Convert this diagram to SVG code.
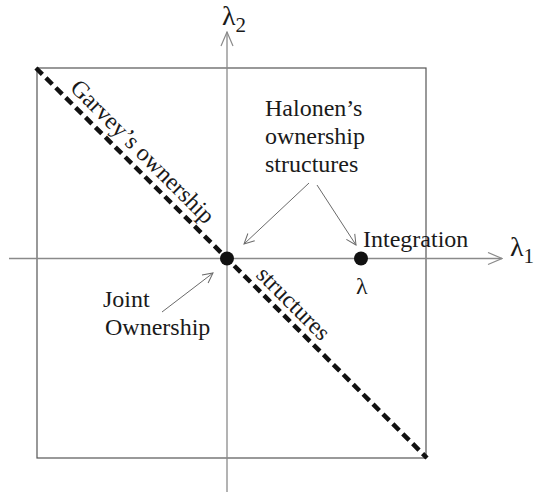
<svg xmlns="http://www.w3.org/2000/svg" width="534" height="493" viewBox="0 0 534 493" font-family="Liberation Serif, DejaVu Serif, serif">
<style>
.t{fill:#1a1a1a;font-size:24px}
.lam{font-size:28px}
.sub{font-size:21px}
.axis{stroke:#8a8a8a;stroke-width:1.3;fill:none}
.box{stroke:#555;stroke-width:1.2;fill:none}
.arr{stroke:#6a6a6a;stroke-width:1;fill:none}
.dash{stroke:#111;stroke-width:4.5;stroke-dasharray:9 5;fill:none}
.dot{fill:#111}
</style>
<defs>
<marker id="ah" markerWidth="12" markerHeight="12" refX="11" refY="6" orient="auto" markerUnits="userSpaceOnUse">
<path d="M1,1 L11,6 L1,11" fill="none" stroke="#6a6a6a" stroke-width="1"/>
</marker>
<marker id="ax" markerWidth="16" markerHeight="14" refX="15" refY="7" orient="auto" markerUnits="userSpaceOnUse">
<path d="M1,1 L15,7 L1,13" fill="none" stroke="#8a8a8a" stroke-width="1.2"/>
</marker>
</defs>
<g id="frame">
<rect class="box" x="37" y="68" width="389" height="390"/>
</g>
<g id="axes">
<line class="axis" x1="9" y1="258.5" x2="502" y2="258.5" marker-end="url(#ax)"/>
<line class="axis" x1="227" y1="492" x2="227" y2="32" marker-end="url(#ax)"/>
<text class="t lam" font-family="Liberation Serif, DejaVu Serif, serif" x="222" y="25">λ<tspan class="sub" dy="7">2</tspan></text>
<text class="t lam" font-family="Liberation Serif, DejaVu Serif, serif" x="510" y="256">λ<tspan class="sub" dy="7">1</tspan></text>
</g>
<g id="garvey">
<line class="dash" x1="36" y1="68" x2="427" y2="458"/>
<text class="t" font-family="Liberation Serif, DejaVu Serif, serif" transform="translate(69,89) rotate(45)">Garvey’s ownership</text>
<text class="t" font-family="Liberation Serif, DejaVu Serif, serif" transform="translate(255,276) rotate(45)">structures</text>
</g>
<g id="joint">
<circle class="dot" cx="227" cy="258.5" r="7"/>
<text class="t" font-family="Liberation Serif, DejaVu Serif, serif" x="103" y="307">Joint</text>
<text class="t" font-family="Liberation Serif, DejaVu Serif, serif" x="105" y="335">Ownership</text>
</g>
<g id="integration">
<circle class="dot" cx="361" cy="258.5" r="7"/>
<text class="t" font-family="Liberation Serif, DejaVu Serif, serif" x="363" y="247">Integration</text>
<text class="t" font-family="Liberation Serif, DejaVu Serif, serif" x="356" y="294">λ</text>
</g>
<g id="halonen">
<text class="t" font-family="Liberation Serif, DejaVu Serif, serif" x="265" y="116">Halonen’s</text>
<text class="t" font-family="Liberation Serif, DejaVu Serif, serif" x="265" y="144">ownership</text>
<text class="t" font-family="Liberation Serif, DejaVu Serif, serif" x="265" y="172">structures</text>
</g>
<g id="connectors">
<line class="arr" x1="309" y1="183" x2="244" y2="244" marker-end="url(#ah)"/>
<line class="arr" x1="317" y1="185" x2="356" y2="245" marker-end="url(#ah)"/>
<line class="arr" x1="162" y1="312" x2="213" y2="273" marker-end="url(#ah)"/>
</g>
</svg>
